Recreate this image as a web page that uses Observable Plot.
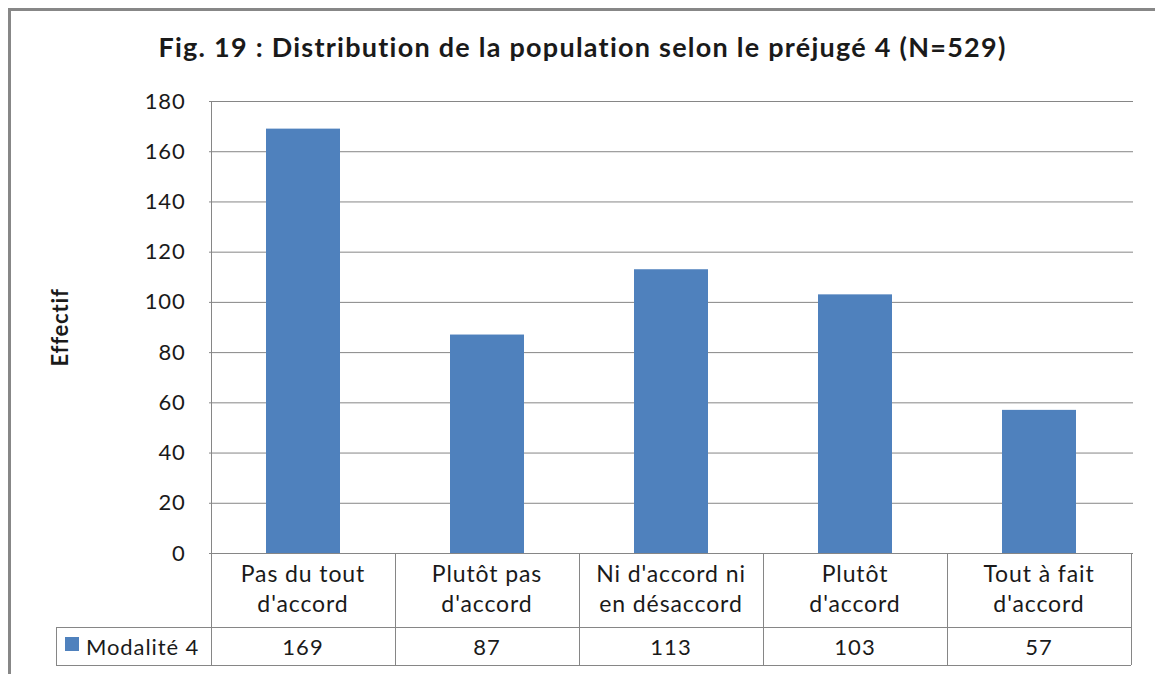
<!DOCTYPE html>
<html><head><meta charset="utf-8">
<script src="https://cdn.jsdelivr.net/npm/d3@7"></script>
<script src="https://cdn.jsdelivr.net/npm/@observablehq/plot@0.6"></script>
<style>
html,body{margin:0;padding:0;background:#fff;overflow:hidden;}
#wrap{position:relative;width:1155px;height:674px;overflow:hidden;font-family:Lato,sans-serif;color:#1a1a1a;background:#fff;}
#border{position:absolute;left:8px;top:8px;width:1400px;height:1000px;border:3px solid #878787;box-sizing:border-box;pointer-events:none;}
#title{height:80px;box-sizing:border-box;padding-top:32px;padding-left:10px;text-align:center;font-weight:bold;font-size:27px;letter-spacing:1.25px;line-height:30px;white-space:nowrap;}
#chart svg{display:block;overflow:visible;}
</style></head>
<body><div id="wrap"><div id="border"></div><div id="title"></div><div id="chart"></div></div>
<script>
const categories = ["Pas du tout d'accord","Plutôt pas d'accord","Ni d'accord ni en désaccord","Plutôt d'accord","Tout à fait d'accord"];
const categoryLines = [["Pas du tout","d'accord"],["Plutôt pas","d'accord"],["Ni d'accord ni","en désaccord"],["Plutôt","d'accord"],["Tout à fait","d'accord"]];
const values = [169, 87, 113, 103, 57];
const seriesName = "Modalité 4";
const yTicks = [0, 20, 40, 60, 80, 100, 120, 140, 160, 180];
const titleText = "Fig. 19 : Distribution de la population selon le préjugé 4 (N=529)";
const yLabel = "Effectif";

const barColor = "#4f81bd";
const lineColor = "#868686";
const textColor = "#1a1a1a";
const font = "Lato, sans-serif";

document.getElementById("title").textContent = titleText;

const data = categories.map((c, i) => ({cat: c, value: values[i]}));

const plot = Plot.plot({
  width: 1155, height: 594,
  marginLeft: 209, marginRight: 22, marginTop: 21, marginBottom: 121,
  style: {fontFamily: font, fontSize: "22px", color: textColor, background: "transparent"},
  x: {type: "band", domain: categories, paddingInner: 0.6, paddingOuter: 0.3, axis: null},
  y: {domain: [0, 180], axis: null},
  marks: [
    Plot.gridY(yTicks, {stroke: lineColor, strokeOpacity: 1, strokeWidth: 1}),
    Plot.barY(data, {x: "cat", y: "value", fill: barColor}),
    Plot.axisY(yTicks, {tickSize: 0, tickPadding: 24, label: null, fontSize: 22, fill: textColor}),
    Plot.text([yLabel], {text: d => d, frameAnchor: "left", textAnchor: "middle", dx: -149, rotate: -90, fontWeight: "bold", fontSize: 22, fill: textColor})
  ]
});
document.getElementById("chart").appendChild(plot);
d3.select(plot).selectAll("[aria-label='y-axis tick label'] text, [aria-label='text'] text").style("letter-spacing", "0.8px");

// data table under the axis, positioned with the plot's own scales
const sx = plot.scale("x");
const sy = plot.scale("y");
const svg = d3.select(plot);
const g = svg.append("g").attr("font-family", font).attr("font-size", 23).attr("fill", textColor)
  .attr("text-anchor", "middle").style("letter-spacing", "0.9px");
const gap = (sx.step - sx.bandwidth) / 2;
const frameLeft = sx.apply(categories[0]) - gap;
const frameRight = sx.apply(categories[categories.length - 1]) + sx.bandwidth + gap;
const y0 = sy.apply(0);
const yTop = sy.apply(180);
const row1 = y0 + 74;
const row2 = y0 + 112;
const legendLeft = frameLeft - 155;

const line = (x1, y1, x2, y2) => g.append("line").attr("x1", x1).attr("y1", y1).attr("x2", x2).attr("y2", y2)
  .attr("stroke", lineColor).attr("stroke-width", 1).attr("shape-rendering", "crispEdges");

line(frameLeft, yTop, frameLeft, row2);
line(frameLeft, y0, frameRight, y0);
line(legendLeft, row1, frameRight, row1);
line(legendLeft, row2, frameRight, row2);
line(legendLeft, row1, legendLeft, row2);
categories.forEach((c, i) => {
  const right = sx.apply(c) + sx.bandwidth + gap;
  line(right, y0, right, row2);
  const cx = sx.apply(c) + sx.bandwidth / 2;
  categoryLines[i].forEach((t, j) => {
    g.append("text").attr("x", cx).attr("y", y0 + 29 + j * 30).text(t);
  });
  g.append("text").attr("x", cx).attr("y", row1 + 28).attr("font-size", 22).style("letter-spacing", "1.1px").text(values[i]);
});
g.append("rect").attr("x", legendLeft + 9).attr("y", row1 + 10).attr("width", 14).attr("height", 14).attr("fill", barColor);
g.append("text").attr("x", legendLeft + 30).attr("y", row1 + 28).attr("text-anchor", "start").attr("font-size", 22).text(seriesName);
</script>
</body></html>
